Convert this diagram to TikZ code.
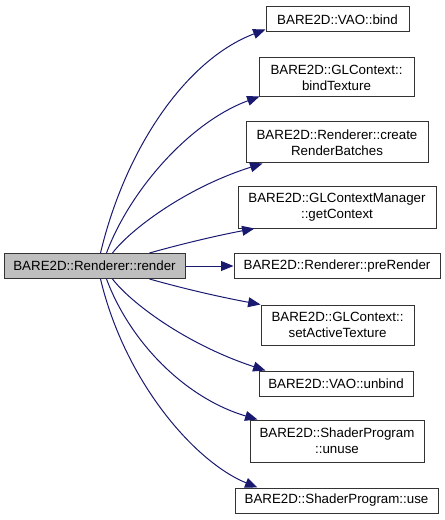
\documentclass[tikz,border=0pt]{standalone}
\usepackage{fontspec}
\setmainfont{Liberation Sans}
\usetikzlibrary{arrows.meta,calc}
\newdimen\pxu \pxu=0.75pt
\definecolor{edgeblue}{HTML}{191970}
\definecolor{maingray}{HTML}{BFBFBF}
\definecolor{boxline}{HTML}{333333}
\begin{document}
\begin{tikzpicture}[x=0.75pt,y=-0.75pt,
  fn/.style={draw=boxline, line width=0.75pt, fill=white, inner sep=0pt, align=center,
    font=\fontsize{10}{12}\selectfont, text=black},
  mainfn/.style={fn, fill=maingray},
  edge/.style={draw=edgeblue, line width=0.75pt, -{Triangle[length=9.3pt,width=7.4pt]}}]
\useasboundingbox (0,0) rectangle (445,520);

\node[mainfn, minimum width=181\pxu, minimum height=25\pxu] (main) at (94.5,266) {BARE2D::Renderer::render};

\node[fn, minimum width=143\pxu, minimum height=25\pxu] (bind) at (337.5,19.5) {BARE2D::VAO::bind};
\node[fn, minimum width=155\pxu, minimum height=39\pxu] (bindTex) at (336.5,77.5) {BARE2D::GLContext::\\bindTexture};
\node[fn, minimum width=182\pxu, minimum height=41\pxu] (crb) at (337,142.5) {BARE2D::Renderer::create\\RenderBatches};
\node[fn, minimum width=198\pxu, minimum height=41\pxu] (getCtx) at (337,207.5) {BARE2D::GLContextManager\\::getContext};
\node[fn, minimum width=206\pxu, minimum height=25\pxu] (pre) at (337,266) {BARE2D::Renderer::preRender};
\node[fn, minimum width=153\pxu, minimum height=40\pxu] (sat) at (337.5,325) {BARE2D::GLContext::\\setActiveTexture};
\node[fn, minimum width=154\pxu, minimum height=25\pxu] (unbind) at (336,383.5) {BARE2D::VAO::unbind};
\node[fn, minimum width=174\pxu, minimum height=42\pxu] (unuse) at (337,441) {BARE2D::ShaderProgram\\::unuse};
\node[fn, minimum width=203\pxu, minimum height=25\pxu] (use) at (336.5,500.5) {BARE2D::ShaderProgram::use};

\draw[edge] ($(main.north west)+(97,0)$) .. controls (125,150) and (185,60) .. ($(bind.south west)+(0,-3)$);
\draw[edge] ($(main.north west)+(103,0)$) .. controls (130,190) and (190,122) .. ($(bindTex.south west)+(1,-1)$);
\draw[edge] ($(main.north west)+(109,0)$) .. controls (130,230) and (185,188) .. ($(crb.south west)+(17,0)$);
\draw[edge] ($(main.north west)+(146,0)$) .. controls (185,243) and (220,235) .. ($(getCtx.south west)+(17,0)$);
\draw[edge] (main.east) -- (pre.west);
\draw[edge] ($(main.south west)+(146,0)$) .. controls (185,289) and (220,297) .. (sat.north west);
\draw[edge] ($(main.south west)+(109,0)$) .. controls (130,302) and (185,344) .. ($(unbind.north west)+(7,0)$);
\draw[edge] ($(main.south west)+(103,0)$) .. controls (130,342) and (185,398) .. ($(unuse.north west)+(8,0)$);
\draw[edge] ($(main.south west)+(97,0)$) .. controls (125,382) and (195,462) .. ($(use.north west)+(23,0)$);
\end{tikzpicture}
\end{document}
